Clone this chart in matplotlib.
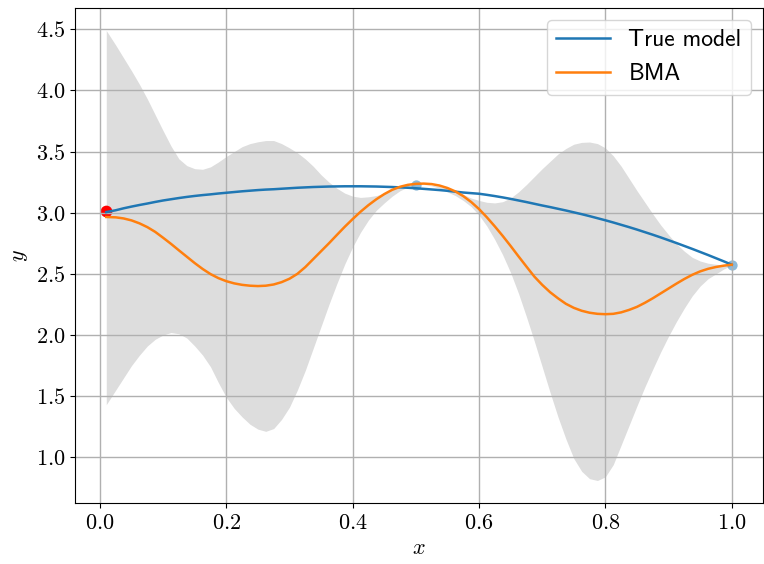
import numpy as np
import matplotlib
matplotlib.use("Agg")
import matplotlib.pyplot as plt
from matplotlib.ticker import FuncFormatter

# evaluation grid: first point at 0.01, then steps of 0.0125 up to 1.0
x = np.concatenate([[0.01], np.arange(2, 81) * 0.0125])

# true model
y_true = [3.005, 3.02, 3.036, 3.05, 3.063, 3.075, 3.088, 3.10, 3.11, 3.12,
          3.129, 3.137, 3.144, 3.15, 3.157, 3.163, 3.169, 3.175, 3.18, 3.185,
          3.189, 3.192, 3.196, 3.20, 3.204, 3.207, 3.21, 3.212, 3.214, 3.215,
          3.216, 3.216, 3.216, 3.215, 3.214, 3.212, 3.21, 3.207, 3.204, 3.20,
          3.195, 3.19, 3.185, 3.179, 3.172, 3.165, 3.16, 3.155, 3.146, 3.136,
          3.125, 3.113, 3.10, 3.087, 3.073, 3.059, 3.046, 3.032, 3.018, 3.003,
          2.988, 2.972, 2.955, 2.938, 2.92, 2.901, 2.882, 2.862, 2.841, 2.82,
          2.798, 2.775, 2.752, 2.728, 2.704, 2.679, 2.654, 2.628, 2.602, 2.575]

# BMA mean
y_bma = [2.965, 2.962, 2.953, 2.937, 2.913, 2.882, 2.843, 2.795, 2.745, 2.692,
         2.64, 2.588, 2.54, 2.498, 2.465, 2.44, 2.422, 2.41, 2.403, 2.40,
         2.403, 2.413, 2.432, 2.46, 2.50, 2.555, 2.62, 2.685, 2.75, 2.818,
         2.885, 2.948, 3.008, 3.062, 3.11, 3.152, 3.187, 3.212, 3.228, 3.236,
         3.238, 3.234, 3.222, 3.202, 3.174, 3.136, 3.088, 3.03, 2.962, 2.888,
         2.81, 2.728, 2.643, 2.56, 2.478, 2.41, 2.35, 2.30, 2.255, 2.222,
         2.198, 2.182, 2.173, 2.170, 2.173, 2.185, 2.205, 2.23, 2.263, 2.30,
         2.34, 2.38, 2.42, 2.458, 2.492, 2.52, 2.541, 2.556, 2.567, 2.575]

# BMA band, lower and upper edge
y_lo = [1.43, 1.55, 1.65, 1.75, 1.835, 1.91, 1.965, 2.00, 2.02, 2.01,
        1.975, 1.91, 1.835, 1.74, 1.61, 1.49, 1.40, 1.33, 1.27, 1.23,
        1.212, 1.235, 1.31, 1.41, 1.55, 1.71, 1.89, 2.07, 2.25, 2.42,
        2.58, 2.72, 2.84, 2.94, 3.02, 3.08, 3.135, 3.18, 3.21, 3.23,
        3.23, 3.22, 3.20, 3.17, 3.14, 3.10, 3.05, 2.98, 2.89, 2.78,
        2.655, 2.51, 2.34, 2.15, 1.95, 1.74, 1.53, 1.33, 1.15, 0.99,
        0.885, 0.825, 0.81, 0.84, 0.94, 1.10, 1.26, 1.42, 1.575, 1.72,
        1.86, 1.99, 2.11, 2.22, 2.32, 2.40, 2.46, 2.50, 2.54, 2.571]
y_hi = [4.49, 4.37, 4.265, 4.16, 4.05, 3.93, 3.80, 3.67, 3.545, 3.44,
        3.385, 3.36, 3.355, 3.375, 3.415, 3.46, 3.50, 3.54, 3.565, 3.58,
        3.59, 3.59, 3.565, 3.53, 3.49, 3.44, 3.38, 3.31, 3.25, 3.20,
        3.16, 3.135, 3.125, 3.13, 3.14, 3.16, 3.19, 3.21, 3.225, 3.23,
        3.23, 3.225, 3.215, 3.20, 3.18, 3.15, 3.12, 3.10, 3.085, 3.08,
        3.09, 3.12, 3.17, 3.23, 3.295, 3.36, 3.42, 3.48, 3.525, 3.56,
        3.575, 3.578, 3.565, 3.53, 3.465, 3.38, 3.28, 3.18, 3.085, 2.99,
        2.90, 2.82, 2.745, 2.685, 2.635, 2.605, 2.587, 2.578, 2.573, 2.571]

# observations
x_obs = [0.01, 0.5, 1.0]
y_obs = [3.01, 3.23, 2.575]

plt.rcParams['mathtext.fontset'] = 'cm'

fig = plt.figure(figsize=(7.64, 5.64), dpi=100)
ax = fig.add_axes([75 / 764, 1 - 503 / 564, 688 / 764, 495 / 564])

ax.fill_between(x, y_lo, y_hi, color='#dddddd', linewidth=0)
ax.scatter(x_obs[:1], y_obs[:1], color='red', s=55)
ax.scatter(x_obs[1:], y_obs[1:], color='C0', alpha=0.5, s=55, linewidths=0)
ax.plot(x, y_true, color='C0', lw=1.8, label='True model')
ax.plot(x, y_bma, color='C1', lw=1.8, label='BMA')

ax.grid(True, color='#b0b0b0', lw=1.0)
ax.xaxis.set_major_formatter(FuncFormatter(lambda v, p: r'$%.1f$' % v))
ax.yaxis.set_major_formatter(FuncFormatter(lambda v, p: r'$%.1f$' % v))
ax.tick_params(labelsize=16)
ax.set_xlabel('$x$', fontsize=16)
ax.set_ylabel('$y$', fontsize=16)

ax.legend(loc='upper right', prop={'family': 'cmss10', 'size': 17},
          handlelength=2.25)

fig.savefig('out.png', dpi=100)
